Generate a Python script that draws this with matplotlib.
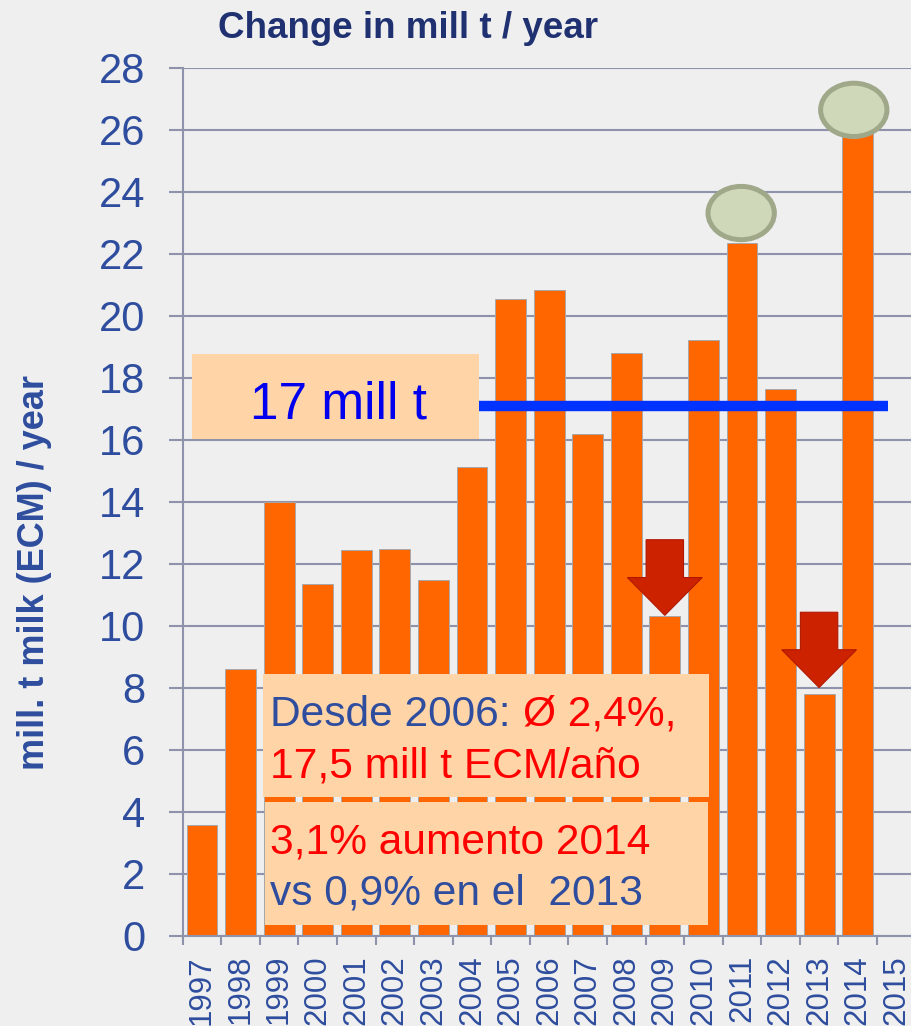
import matplotlib
matplotlib.use('Agg')
import matplotlib.pyplot as plt
import numpy as np
from matplotlib.patches import Rectangle, Ellipse, FancyArrow

# ---------------- data ----------------
YEARS = ['1997', '1998', '1999', '2000', '2001', '2002', '2003', '2004', '2005',
         '2006', '2007', '2008', '2009', '2010', '2011', '2012', '2013', '2014', '2015']
VALUES = [3.57, 8.6, 14.0, 11.34, 12.43, 12.47, 11.47, 15.13, 20.53,
          20.82, 16.18, 18.8, 10.3, 19.21, 22.35, 17.64, 7.79, 26.0]
AVERAGE = 17.1
Y_TICKS = [0, 2, 4, 6, 8, 10, 12, 14, 16, 18, 20, 22, 24, 26, 28]
DOWN_YEARS = ['2009', '2013']
HIGH_YEARS = ['2011', '2014']

TITLE = 'Change in mill t / year'
YLABEL = 'mill. t milk (ECM) / year'
AVG_LABEL = '17 mill t'

# ---------------- style ----------------
BG = '#EFEFEF'
BAR = '#FF6600'
GRID = '#8E92AA'
BLUE_TXT = '#2E4D9E'
NAVY = '#1F3170'
PEACH = '#FFD4A6'
RED = '#FF0000'
ARROW = '#CC2200'
FONT = ['Liberation Sans', 'DejaVu Sans']

plt.rcParams['font.family'] = FONT

W, H = 911, 1026
fig = plt.figure(figsize=(W / 100, H / 100), dpi=100, facecolor=BG)

left_px, right_px, top_px, bot_px = 182.7, 915.5, 67.7, 935.5
ax = fig.add_axes([left_px / W, 1 - bot_px / H, (right_px - left_px) / W, (bot_px - top_px) / H])
ax.set_facecolor(BG)

x = np.arange(len(VALUES))
ax.bar(x, VALUES, width=0.8, color=BAR, edgecolor='#A8A8A8', linewidth=0.7, zorder=2)

ax.set_xlim(-0.5, len(YEARS) - 0.5)
ax.set_ylim(0, 28)

# grid & spines
ax.set_axisbelow(True)
ax.yaxis.grid(True, color=GRID, linewidth=1.5)
for s in ['top', 'right']:
    ax.spines[s].set_visible(False)
for s in ['left', 'bottom']:
    ax.spines[s].set_color(GRID)
    ax.spines[s].set_linewidth(1.5)

ax.set_yticks(Y_TICKS)
ax.set_yticklabels([str(t) for t in Y_TICKS])
ax.tick_params(axis='y', length=10, width=1.5, color=GRID, pad=17,
               labelsize=30, labelcolor=BLUE_TXT)

ax.set_xticks(np.arange(len(YEARS)))
ax.set_xticklabels(YEARS, rotation=90)
ax.set_xticks(np.arange(len(YEARS) + 1) - 0.5, minor=True)
ax.tick_params(axis='x', which='major', length=0, pad=14, labelsize=22.5, labelcolor=BLUE_TXT)
ax.tick_params(axis='x', which='minor', length=6.7, width=1.5, color=GRID)
for lab in ax.get_xticklabels():
    lab.set_verticalalignment('top')

# average line
ax.plot([7.0, 17.79], [AVERAGE, AVERAGE], color='#0033FF', linewidth=7.5,
        solid_capstyle='butt', zorder=2.5)

# 17 mill t box
ax.add_patch(Rectangle((-0.26, 16.03), 7.44, 2.73, facecolor=PEACH, edgecolor='none', zorder=3))
ax.text(3.54, 16.69, AVG_LABEL, color='#0000EE', fontsize=37, ha='center',
        va='baseline', zorder=4)

# lower boxes
ax.add_patch(Rectangle((1.574, 4.477), 11.571, 3.958, facecolor=PEACH, edgecolor='none', zorder=3))
ax.add_patch(Rectangle((1.626, 0.339), 11.484, 3.967, facecolor=PEACH, edgecolor='none', zorder=3))
tx = 1.77
fs = 30.6
t1 = ax.text(tx, 6.77, 'Desde 2006:', color=BLUE_TXT, fontsize=fs, va='baseline', zorder=4)
ax.annotate('Ø 2,4%,', xy=(1, 0), xycoords=t1, xytext=(8.5, 0), textcoords='offset points',
            color=RED, fontsize=fs, va='bottom', ha='left', zorder=4)
ax.text(tx, 5.10, '17,5 mill t ECM/año', color=RED, fontsize=fs, va='baseline', zorder=4)
ax.text(tx, 2.63, '3,1% aumento 2014', color=RED, fontsize=fs, va='baseline', zorder=4)
ax.text(tx, 1.006, 'vs 0,9% en el  2013', color=BLUE_TXT, fontsize=fs, va='baseline', zorder=4)

# down arrows
arrow_specs = {'2009': (0.03, 2.44), '2013': (0.21, 2.43)}
for yr in DOWN_YEARS:
    i = YEARS.index(yr)
    gap, length = arrow_specs[yr]
    tip = VALUES[i] + gap
    ax.add_patch(FancyArrow(i, tip + length, 0, -length, width=0.97, head_width=1.94,
                            head_length=1.22, length_includes_head=True,
                            facecolor=ARROW, edgecolor='#B01800', linewidth=0.8, zorder=3))

# ellipses
ell_specs = {'2011': (-0.02, 0.96), '2014': (-0.1, 0.64)}
for yr in HIGH_YEARS:
    i = YEARS.index(yr)
    dx, dy = ell_specs[yr]
    ax.add_patch(Ellipse((i + dx, VALUES[i] + dy), 1.72, 1.72, facecolor='#CFD9B9',
                         edgecolor='#A0A88A', linewidth=3.6, zorder=3, clip_on=False))

# title & y label
fig.text(408 / W, 1 - 38.3 / H, TITLE, fontsize=26.5, fontweight='bold', color=NAVY,
         ha='center', va='baseline')
fig.text(35 / W, 1 - 572 / H, YLABEL, fontsize=26, fontweight='bold', color=BLUE_TXT,
         rotation=90, ha='center', va='center')

fig.savefig('out.png', dpi=100, facecolor=BG)
